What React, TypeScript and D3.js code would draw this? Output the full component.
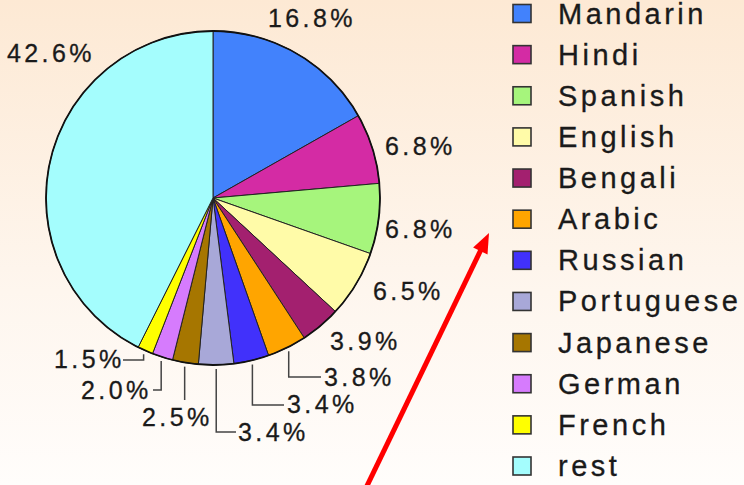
import * as d3 from "d3";
import React from "react";

// language shares (percent of speakers)
const languages = ["Mandarin", "Hindi", "Spanish", "English", "Bengali", "Arabic", "Russian", "Portuguese", "Japanese", "German", "French", "rest"];
const shares = [16.8, 6.8, 6.8, 6.5, 3.9, 3.8, 3.4, 3.4, 2.5, 2.0, 1.5, 42.6];
const colors = ["#4282fc", "#d42ba4", "#a6f57c", "#fffba8", "#a3206f", "#ffa500", "#4131fb", "#a8a8d8", "#a67600", "#d67bfd", "#ffff00", "#a4fdfd"];

// label placement relative to pie centre: text x/y, optional leader elbow y and end x
const labelLayout = [
    {tx: 55, ty: -171},
    {tx: 172, ty: -43},
    {tx: 172, ty: 40},
    {tx: 160, ty: 102},
    {tx: 117, ty: 152},
    {tx: 111, ty: 188, elbowY: 179, endX: 108},
    {tx: 74, ty: 215, elbowY: 207, endX: 71},
    {tx: 25, ty: 243, elbowY: 234, endX: 23},
    {tx: -71, ty: 228, elbowY: 202},
    {tx: -132, ty: 201, elbowY: 192, endX: -60},
    {tx: -159, ty: 170, elbowY: 162, endX: -90},
    {tx: -206, ty: -136},
];

const W = 744, H = 485;
const cx = 213, cy = 198, radius = 167;

const App = () => {
    const pie = d3.pie<number>().sort(null).value(d => d);
    const arcs = pie(shares);
    const arc = d3.arc<d3.PieArcDatum<number>>().innerRadius(0).outerRadius(radius);

    const legendY = d3.scaleLinear().domain([0, languages.length - 1]).range([13.5, 466]);

    const pt = (a: number, r: number) => [r * Math.sin(a), -r * Math.cos(a)];

    // red arrow
    const ax0 = 365, ay0 = 490, ax1 = 489, ay1 = 233;
    const len = Math.hypot(ax1 - ax0, ay1 - ay0);
    const ux = (ax1 - ax0) / len, uy = (ay1 - ay0) / len;
    const headL = 20, headW = 8;
    const bx = ax1 - ux * headL, by = ay1 - uy * headL;
    const head = `M${ax1},${ay1}L${bx - uy * headW},${by + ux * headW}L${bx + uy * headW},${by - ux * headW}Z`;

    const font = "'Liberation Sans', Arial, sans-serif";

    return (
        <svg width={W} height={H} style={{position: "absolute", left: 0, top: 0}}>
            <defs>
                <linearGradient id="bg" x1="0" y1="0" x2="0" y2="1">
                    <stop offset="0" stopColor="#fde9d4"/>
                    <stop offset="0.6" stopColor="#fef6ee"/>
                    <stop offset="1" stopColor="#fffdfb"/>
                </linearGradient>
            </defs>
            <rect width={W} height={H} fill="url(#bg)"/>
            <g transform={`translate(${cx},${cy})`}>
                {arcs.map((d, i) => (
                    <path key={i} d={arc(d) ?? ""} fill={colors[i]} stroke="#222" strokeWidth={1}/>
                ))}
                <circle r={radius} fill="none" stroke="#111" strokeWidth={1.8}/>
                {arcs.map((d, i) => {
                    const l = labelLayout[i];
                    if (l.elbowY === undefined) return null;
                    const mid = (d.startAngle + d.endAngle) / 2;
                    const [sx, sy] = pt(mid, radius + 4);
                    let p = `M${sx},${sy}V${l.elbowY}`;
                    if (l.endX !== undefined) p += `H${l.endX}`;
                    return <path key={"l" + i} d={p} fill="none" stroke="#444" strokeWidth={1.5}/>;
                })}
                {arcs.map((d, i) => (
                    <text key={"t" + i} x={labelLayout[i].tx} y={labelLayout[i].ty} fontFamily={font}
                          fontSize={25} letterSpacing={3.4} fill="#1a1a1a" stroke="#1a1a1a" strokeWidth={0.3}>
                        {d.data.toFixed(1)}%
                    </text>
                ))}
            </g>
            <g>
                {languages.map((name, i) => (
                    <g key={name} transform={`translate(0,${legendY(i)})`}>
                        <rect x={513} y={-9} width={18} height={18} fill={colors[i]} stroke="#333" strokeWidth={1.6}/>
                        <text x={558} y={10} fontFamily={font} fontSize={29} letterSpacing={3.5} fill="#1a1a1a"
                              stroke="#1a1a1a" strokeWidth={0.3}>{name}</text>
                    </g>
                ))}
            </g>
            <line x1={ax0} y1={ay0} x2={bx + ux * 2} y2={by + uy * 2} stroke="#ff0000" strokeWidth={5}/>
            <path d={head} fill="#ff0000"/>
        </svg>
    );
};

export default App;
